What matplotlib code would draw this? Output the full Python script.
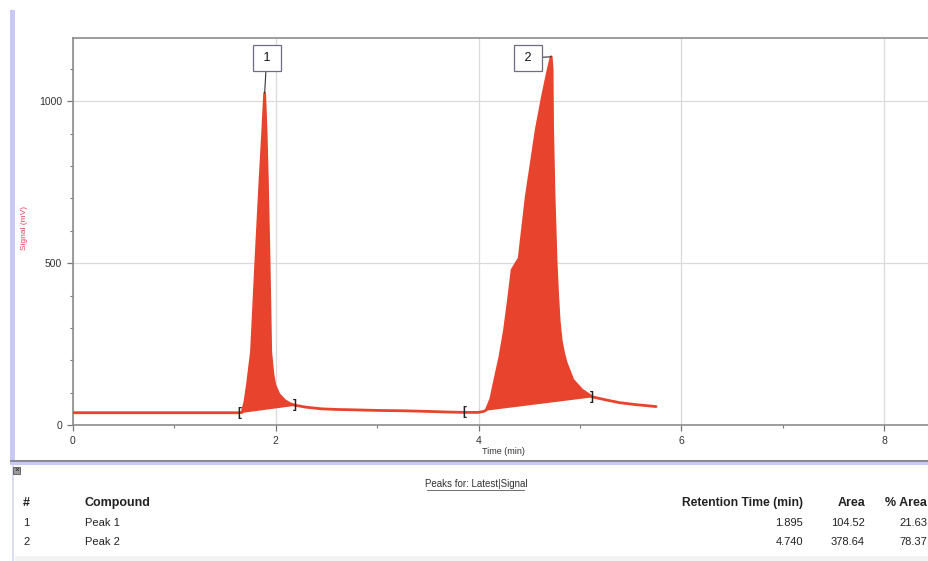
import numpy as np
import matplotlib
matplotlib.use("Agg")
import matplotlib.pyplot as plt
from matplotlib.patches import Rectangle
from matplotlib.ticker import MultipleLocator

plt.rcParams['font.family'] = ['Liberation Sans', 'DejaVu Sans']

# chromatogram trace
time = [0.0, 0.5, 1.0, 1.5, 1.64, 1.668, 1.695, 1.72, 1.76, 1.803, 1.842,
        1.868, 1.89, 1.905, 1.918, 1.934, 1.95, 1.97, 1.99, 2.03, 2.09, 2.14,
        2.19, 2.3, 2.45, 2.6, 2.75, 3.0, 3.25, 3.5, 3.7, 3.86,
        4.0, 4.05, 4.075, 4.12, 4.16, 4.21, 4.256, 4.30, 4.33, 4.37, 4.40, 4.47,
        4.52, 4.568, 4.63, 4.68, 4.716, 4.725, 4.73, 4.745, 4.765, 4.78, 4.795,
        4.815, 4.84, 4.864, 4.93, 5.02, 5.12, 5.25, 5.39, 5.55, 5.75]
signal = [38, 38, 38, 38, 38, 39, 71, 124, 226, 504, 742,
          890, 1026, 900, 742, 504, 226, 160, 124, 95, 75, 66,
          61, 55, 50, 48, 47, 45, 44, 42, 40, 39,
          39, 42, 46, 80, 139, 210, 294, 400, 479, 500, 515, 706,
          810, 912, 1015, 1090, 1138, 1100, 912, 700, 500, 400, 320,
          260, 220, 192, 139, 108, 87, 78, 69, 63, 57]

# integration windows
peak_names = ["1", "2"]
bracket_open = [1.64, 3.86]
fill_start = [1.668, 4.075]
fill_end = [2.19, 5.12]
apex_t = [1.89, 4.716]
label_t = [1.91, 4.49]
label_y = [1134, 1134]

# results table
tbl_num = ["1", "2"]
tbl_compound = ["Peak 1", "Peak 2"]
tbl_rt = ["1.895", "4.740"]
tbl_area = ["104.52", "378.64"]
tbl_pct = ["21.63", "78.37"]

W, H = 929, 561
red = "#e8432d"
lav = "#c9c9f7"
txt = "#222222"

fig = plt.figure(figsize=(W / 100, H / 100), dpi=100)
fig.patch.set_facecolor("white")

def fx(px):
    return px / W

def fy(py):
    return 1 - py / H

# window chrome
fig.patches.append(Rectangle((fx(10), fy(462)), fx(5), 452 / H, transform=fig.transFigure,
                             facecolor=lav, edgecolor="none", zorder=0))
fig.patches.append(Rectangle((fx(12), 0), fx(2), fy(465), transform=fig.transFigure,
                             facecolor="#dcdcf5", edgecolor="none", zorder=0))
fig.patches.append(Rectangle((fx(10), fy(465)), 1, 4 / H, transform=fig.transFigure,
                             facecolor=lav, edgecolor="none", zorder=0))
fig.patches.append(Rectangle((fx(10), fy(461.5)), 1, 1.5 / H, transform=fig.transFigure,
                             facecolor="#8a8a95", edgecolor="none", zorder=1))
fig.patches.append(Rectangle((fx(13), fy(474)), fx(7), 7 / H, transform=fig.transFigure,
                             facecolor="#9a9a9a", edgecolor="#555555", lw=0.6, zorder=2))
fig.text(fx(16.5), fy(470.5), "×", fontsize=6, color="#222222", ha="center", va="center")

ax = fig.add_axes([fx(73), fy(425), (W - 73) / W + 0.01, 387 / H])
t = np.array(time)
s = np.array(signal)
ax.plot(t, s, color=red, lw=2.0, solid_capstyle="round", zorder=3)

for i in range(len(peak_names)):
    a, b = fill_start[i], fill_end[i]
    m = (t >= a) & (t <= b)
    tt = t[m]
    ss = s[m]
    base = np.interp(tt, [a, b], [np.interp(a, t, s), np.interp(b, t, s)])
    ax.fill_between(tt, base, ss, color=red, lw=0, zorder=2)
    ax.text(bracket_open[i], np.interp(bracket_open[i], t, s), "[", fontsize=8.5,
            fontweight="bold", color="#222222", ha="center", va="center", zorder=4)
    ax.text(fill_end[i], np.interp(fill_end[i], t, s), "]", fontsize=8.5,
            fontweight="bold", color="#222222", ha="center", va="center", zorder=4)
    ax.annotate(" " + peak_names[i] + " ", xy=(apex_t[i], np.interp(apex_t[i], t, s)),
                xytext=(label_t[i], label_y[i]), fontsize=9, color="#111111",
                ha="center", va="center", zorder=5,
                bbox=dict(boxstyle="square,pad=0.55", fc="white", ec="#6e6e80", lw=0.9),
                arrowprops=dict(arrowstyle="-", color="#333333", lw=0.8, shrinkA=0, shrinkB=0))

ax.set_xlim(0, (W - 73) / 101.5 + 0.1)
ax.set_ylim(0, 1196)
ax.xaxis.set_major_locator(MultipleLocator(2))
ax.xaxis.set_minor_locator(MultipleLocator(1))
ax.yaxis.set_major_locator(MultipleLocator(500))
ax.yaxis.set_minor_locator(MultipleLocator(100))
ax.grid(True, which="major", color="#dadada", lw=0.9)
ax.set_axisbelow(True)
for side in ["left", "bottom", "top"]:
    ax.spines[side].set_color("#8c8c8c")
    ax.spines[side].set_linewidth(1.2)
ax.spines["right"].set_visible(False)
ax.tick_params(which="major", length=4, width=0.9, color="#777777", labelsize=7.5,
               labelcolor="#333333", pad=4)
ax.tick_params(which="minor", length=2.5, width=0.8, color="#777777")

fig.text(fx(25), fy(228), "Signal (mV)", rotation=90, fontsize=6, color="#e8405a",
         ha="center", va="center")
fig.text(fx(503), fy(452), "Time (min)", fontsize=6.5, color="#333333", ha="center", va="center")

# peak table
fig.text(fx(476), fy(484), "Peaks for: Latest|Signal", fontsize=7, color="#333333",
         ha="center", va="center")
fig.lines.append(plt.Line2D([fx(427), fx(524)], [fy(490), fy(490)], transform=fig.transFigure,
                            color="#555555", lw=0.6))

hy = fy(503)
fig.text(fx(23), hy, "#", fontsize=9, fontweight="bold", color=txt, va="center")
fig.text(fx(85), hy, "Compound", fontsize=9, fontweight="bold", color=txt, va="center")
fig.text(fx(803), hy, "Retention Time (min)", fontsize=8.7, fontweight="bold", color=txt,
         ha="right", va="center")
fig.text(fx(865), hy, "Area", fontsize=9, fontweight="bold", color=txt, ha="right", va="center")
fig.text(fx(927), hy, "% Area", fontsize=9, fontweight="bold", color=txt, ha="right", va="center")

row_y = [523, 542]
for i in range(len(tbl_num)):
    y = fy(row_y[i])
    fig.text(fx(23), y, tbl_num[i], fontsize=8, color=txt, va="center")
    fig.text(fx(85), y, tbl_compound[i], fontsize=8, color=txt, va="center")
    fig.text(fx(803), y, tbl_rt[i], fontsize=8, color=txt, ha="right", va="center")
    fig.text(fx(865), y, tbl_area[i], fontsize=8, color=txt, ha="right", va="center")
    fig.text(fx(927), y, tbl_pct[i], fontsize=8, color=txt, ha="right", va="center")

fig.patches.append(Rectangle((fx(15), 0), 1, 5 / H, transform=fig.transFigure,
                             facecolor="#f3f3f3", edgecolor="none", zorder=0))

fig.savefig("out.png", dpi=100)
